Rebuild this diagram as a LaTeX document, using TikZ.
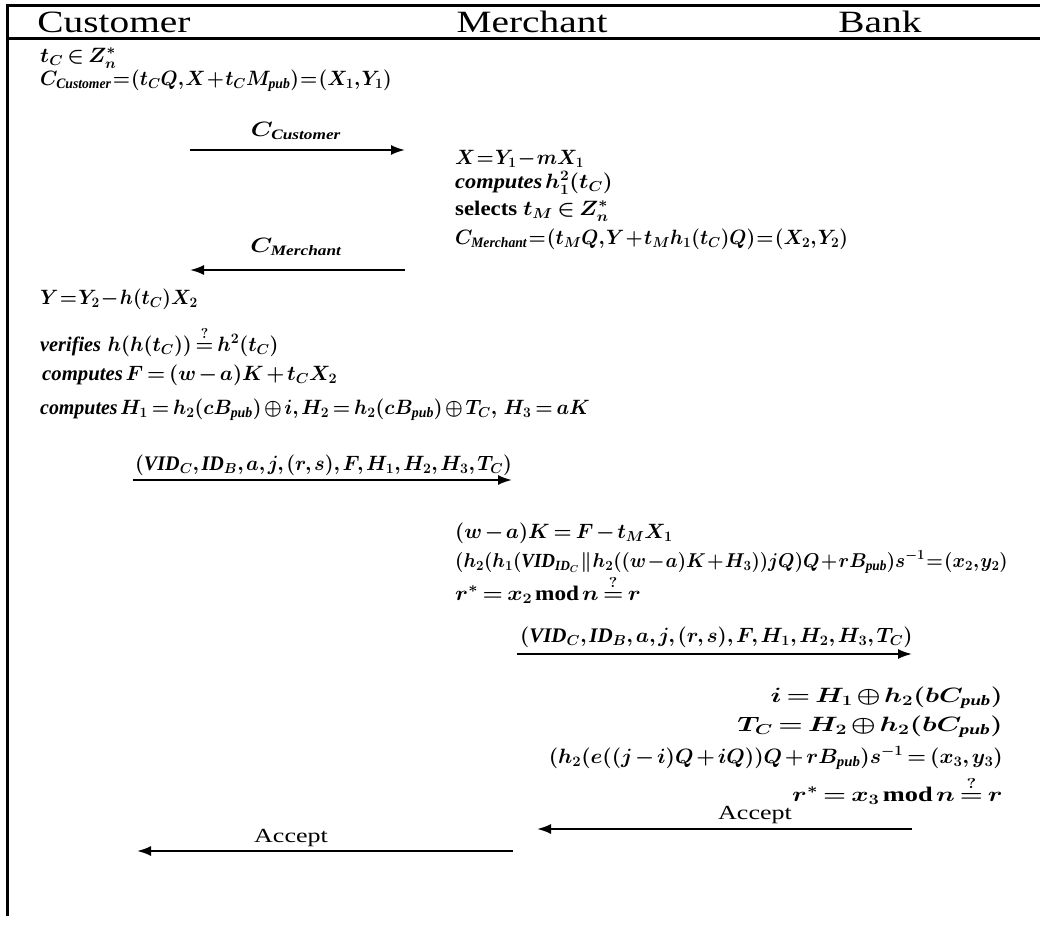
\RequirePackage{fix-cm}
\documentclass[tikz,border=0pt]{standalone}
\usepackage{amsmath, amssymb}
\usepackage{fontspec}
\setmainfont{Liberation Serif}
\usetikzlibrary{arrows.meta}

\newcommand{\tightmath}{\thickmuskip=3mu plus 2mu\medmuskip=2mu plus 1mu\thinmuskip=2mu}
\newcommand{\packedmath}{\thickmuskip=1mu\medmuskip=1mu\thinmuskip=1mu}

\begin{document}
\begin{tikzpicture}[x=1pt, y=-1pt,
      every node/.style={inner sep=0pt, font=\fontsize{20.74}{24}\selectfont\boldmath\tightmath},
      packed/.style={xscale=0.95, font=\fontsize{#1}{24}\selectfont\boldmath\packedmath},
      head/.style={anchor=base, xscale=1.27, font=\fontsize{31}{36}\selectfont},
      step-l/.style={anchor=base west},
      step-r/.style={anchor=base east},
      okay/.style={anchor=base, xscale=1.3, font=\fontsize{20}{24}\selectfont},
      msg/.style={line width=2pt, -{Latex[length=14pt,width=10pt]}}]
    \useasboundingbox (0,0) rectangle (1040,929);
    % frame
    \draw[line width=3pt] (1040,5) -- (7,5) -- (7,916);
    \draw[line width=3pt] (7,38) -- (1040,38);
    \node[head] (customer) at (114,32) {Customer};
    \node[head] (merchant) at (532,32) {Merchant};
    \node[head] (bank) at (880,32) {Bank};
    % customer
    \node[step-l, xscale=1.05] (tc) at (40,62) {$t_C \in Z^*_n$};
    \node[step-l, packed=20.74] (ccust) at (40,85)
      {$C_{\mathit{Customer}} = (t_C Q, X + t_C M_{\mathit{pub}}) = (X_1, Y_1)$};
    \coordinate (m1a) at (190,150);
    \coordinate (m1b) at (405,150);
    \draw[msg] (m1a) -- (m1b);
    \node[anchor=base, xscale=1.2] (l1) at (296,136) {$C_{\mathit{Customer}}$};
    % merchant
    \node[step-l, packed=20.74] (xm) at (455,164) {$X = Y_1 - mX_1$};
    \node[step-l, xscale=1.08] (hm) at (455,188) {$\mathit{computes}\, h^2_1(t_C)$};
    \node[step-l, xscale=1.1] (sel) at (455,215) {$\textbf{selects } t_M \in Z^*_n$};
    \node[step-l, packed=20.74] (cmer) at (455,244)
      {$C_{\mathit{Merchant}} = (t_M Q, Y + t_M h_1(t_C)Q) = (X_2, Y_2)$};
    \coordinate (m2a) at (405,270);
    \coordinate (m2b) at (190,270);
    \draw[msg] (m2a) -- (m2b);
    \node[anchor=base, xscale=1.2] (l2) at (296,252) {$C_{\mathit{Merchant}}$};
    % customer
    \node[step-l, packed=20.74] (yc) at (40,304) {$Y = Y_2 - h(t_C)X_2$};
    \node[step-l, xscale=0.98] (ver) at (40,351)
      {$\mathit{verifies}\;\, h(h(t_C)) \overset{?}{=} h^2(t_C)$};
    \node[step-l] (fc) at (42,380) {$\mathit{computes}\, F = (w-a)K + t_C X_2$};
    \node[step-l, xscale=0.96] (hc) at (40,414)
      {$\mathit{computes}\, H_1 = h_2(cB_{\mathit{pub}}) \oplus i, H_2 = h_2(cB_{\mathit{pub}}) \oplus T_C,\; H_3 = aK$};
    \coordinate (m3a) at (133,480);
    \coordinate (m3b) at (512,480);
    \draw[msg] (m3a) -- (m3b);
    \node[step-l, xscale=0.97] (l3) at (135,470)
      {$(\mathit{VID}_C, \mathit{ID}_B, a, j, (r,s), F, H_1, H_2, H_3, T_C)$};
    % merchant
    \node[step-l] (wk) at (455,538) {$(w-a)K = F - t_M X_1$};
    \node[step-l, packed=20] (sig) at (455,567)
      {$(h_2(h_1(\mathit{VID}_{\mathit{ID}_C} \parallel h_2((w-a)K + H_3))jQ)Q + rB_{\mathit{pub}})s^{-1} = (x_2, y_2)$};
    \node[step-l, xscale=1.12] (rm) at (455,600)
      {$r^{*} = x_2 \,\textbf{mod}\, n \overset{?}{=} r$};
    \coordinate (m4a) at (517,654);
    \coordinate (m4b) at (912,654);
    \draw[msg] (m4a) -- (m4b);
    \node[step-l, xscale=1.01] (l4) at (520,642)
      {$(\mathit{VID}_C, \mathit{ID}_B, a, j, (r,s), F, H_1, H_2, H_3, T_C)$};
    % bank
    \node[step-r, xscale=1.3] (ib) at (1003,702) {$i = H_1 \oplus h_2(bC_{\mathit{pub}})$};
    \node[step-r, xscale=1.35] (tb) at (1003,731) {$T_C = H_2 \oplus h_2(bC_{\mathit{pub}})$};
    \node[step-r, xscale=1.03] (sb) at (1003,763)
      {$(h_2(e((j-i)Q + iQ))Q + rB_{\mathit{pub}})s^{-1} = (x_3, y_3)$};
    \node[step-r, xscale=1.27] (rb) at (1003,801)
      {$r^{*} = x_3 \,\textbf{mod}\, n \overset{?}{=} r$};
    \coordinate (m5a) at (912,829);
    \coordinate (m5b) at (537,829);
    \draw[msg] (m5a) -- (m5b);
    \node[okay] (acc1) at (755,819) {Accept};
    \coordinate (m6a) at (513,851);
    \coordinate (m6b) at (137,851);
    \draw[msg] (m6a) -- (m6b);
    \node[okay] (acc2) at (291,842) {Accept};
\end{tikzpicture}
\end{document}
